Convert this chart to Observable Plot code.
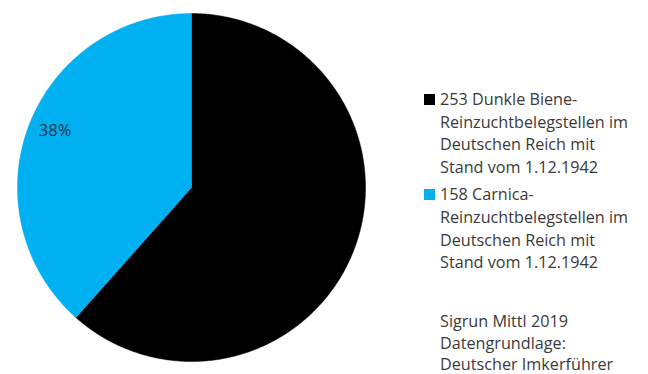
<!DOCTYPE html>
<html><head><meta charset="utf-8">
<script src="https://cdn.jsdelivr.net/npm/d3@7"></script>
<script src="https://cdn.jsdelivr.net/npm/@observablehq/plot@0.6"></script>
<style>
html,body{margin:0;padding:0;background:#fff;}
#wrap{position:relative;width:648px;height:374px;overflow:hidden;}
#legend{position:absolute;left:424px;top:88px;font-family:"Open Sans",Lato,sans-serif;font-size:16.2px;color:#3a3a3a;line-height:22.6px;}
.item{position:relative;padding-left:16px;margin-bottom:5px;}
.sw{position:absolute;left:0;top:6px;width:11px;height:11px;}
#note{position:absolute;left:440px;top:311px;font-family:"Open Sans",Lato,sans-serif;font-size:16.2px;color:#3a3a3a;line-height:21.5px;}
</style></head>
<body><div id="wrap"></div>
<script>
const categories = ["Dunkle Biene", "Carnica"];
const values = [253, 158];
const colors = ["#000000", "#00B0F0"];
const legendLabels = [
  ["253 Dunkle Biene-", "Reinzuchtbelegstellen im", "Deutschen Reich mit", "Stand vom 1.12.1942"],
  ["158 Carnica-", "Reinzuchtbelegstellen im", "Deutschen Reich mit", "Stand vom 1.12.1942"]
];
const noteLines = ["Sigrun Mittl 2019", "Datengrundlage:", "Deutscher Imkerführer"];
const shownLabels = [null, "38%"];

const total = d3.sum(values);
const slices = [];
let start = 0;
values.forEach((v, i) => {
  const end = start + v / total * 2 * Math.PI;
  const n = Math.max(4, Math.ceil((end - start) / 0.01));
  slices.push({cat: categories[i], x: 0, y: 0});
  for (let k = 0; k <= n; k++) {
    const a = start + (end - start) * k / n;
    slices.push({cat: categories[i], x: Math.sin(a), y: Math.cos(a)});
  }
  slices.push({cat: categories[i], x: 0, y: 0});
  start = end;
});
const labels = [];
start = 0;
values.forEach((v, i) => {
  const end = start + v / total * 2 * Math.PI;
  const mid = (start + end) / 2;
  if (shownLabels[i]) labels.push({text: shownLabels[i], x: 0.86 * Math.sin(mid) + 0.02, y: 0.86 * Math.cos(mid) + 0.02});
  start = end;
});

const chart = Plot.plot({
  width: 648, height: 374,
  margin: 0,
  x: {domain: [-1, 1], range: [17, 365], axis: null},
  y: {domain: [-1, 1], range: [361, 13], axis: null},
  color: {domain: categories, range: colors},
  marks: [
    Plot.line(slices, {x: "x", y: "y", z: "cat", fill: "cat", stroke: "cat", strokeWidth: 0.5, curve: "linear"}),
    Plot.text(labels, {x: "x", y: "y", text: "text", fill: "#1d3550", fontSize: 16.5, fontFamily: "'Open Sans', Lato, sans-serif"})
  ]
});
const wrap = document.getElementById("wrap");
wrap.appendChild(chart);

const leg = document.createElement("div");
leg.id = "legend";
legendLabels.forEach((lines, i) => {
  const it = document.createElement("div");
  it.className = "item";
  const sw = document.createElement("span");
  sw.className = "sw"; sw.style.background = colors[i];
  it.appendChild(sw);
  lines.forEach(l => { const d = document.createElement("div"); d.textContent = l; it.appendChild(d); });
  leg.appendChild(it);
});
wrap.appendChild(leg);
const note = document.createElement("div");
note.id = "note";
noteLines.forEach(l => { const d = document.createElement("div"); d.textContent = l; note.appendChild(d); });
wrap.appendChild(note);
</script></body></html>
